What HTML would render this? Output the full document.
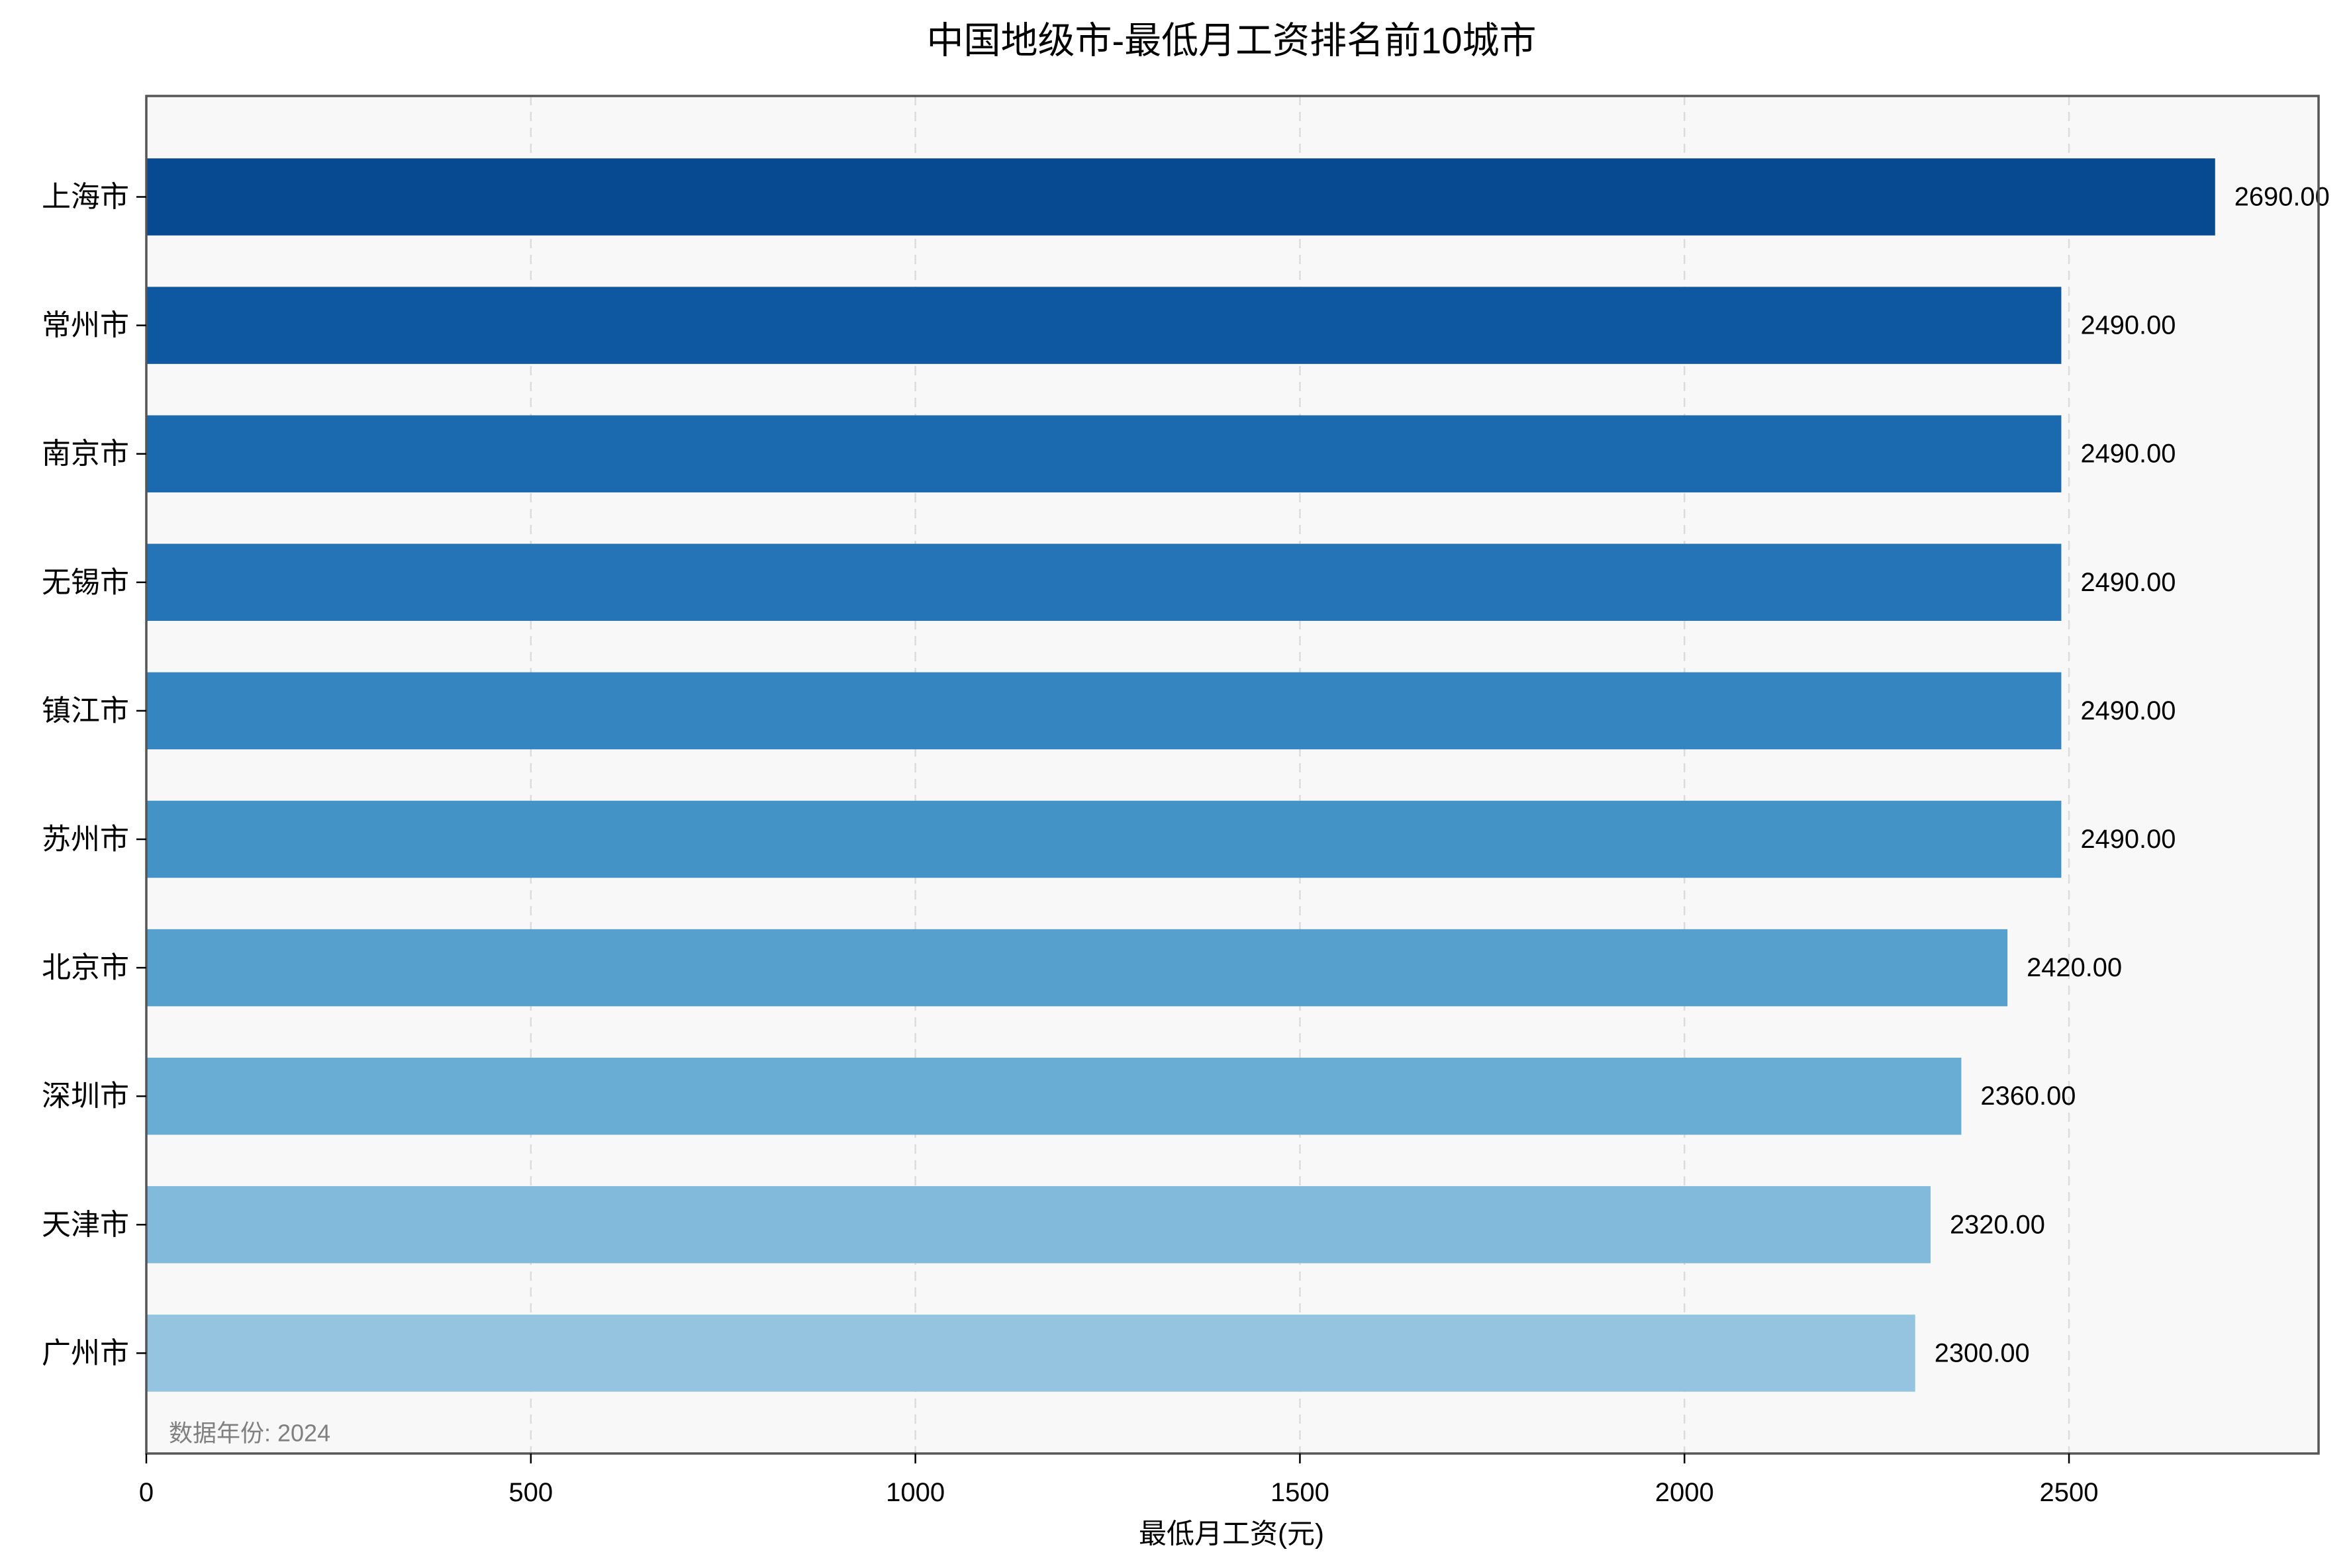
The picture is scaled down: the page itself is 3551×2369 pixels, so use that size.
<!DOCTYPE html>
<html><head><meta charset="utf-8"><style>
html,body{margin:0;padding:0;background:#fff;}
svg{display:block;}
text{font-family:"Liberation Sans","Noto Sans CJK SC",sans-serif;}
</style></head><body>
<svg id="chart" width="3551" height="2369" viewBox="0 0 3551 2369" xmlns="http://www.w3.org/2000/svg">
<rect x="0" y="0" width="3551" height="2369" fill="#ffffff"/>
<text x="1860" y="61" font-size="56" text-anchor="middle" dominant-baseline="central" fill="#000">中国地级市-最低月工资排名前10城市</text>
<rect x="221" y="145" width="3281" height="2051" fill="#f8f8f8"/>
<g id="grid"></g>
<g id="bars"></g>
<g id="labels"></g>
<text x="255" y="2165" font-size="36" fill="#808080" dominant-baseline="central">数据年份: 2024</text>
<rect x="221" y="145" width="3281" height="2051" fill="none" stroke="#555" stroke-width="3.5"/>
<g id="xticks"></g>
<g id="yticks"></g>
<text x="1860" y="2317" font-size="42" text-anchor="middle" dominant-baseline="central" fill="#000">最低月工资(元)</text>
</svg>
<script>
const cities = ["上海市","常州市","南京市","无锡市","镇江市","苏州市","北京市","深圳市","天津市","广州市"];
const wages = [2690,2490,2490,2490,2490,2490,2420,2360,2320,2300];
const barColors = ["#084a91","#0e58a2","#1b69af","#2474b7","#3585c0","#4493c7","#56a0ce","#69add5","#81badb","#94c4df"];
const xTicks = [0,500,1000,1500,2000,2500];

const NS="http://www.w3.org/2000/svg";
const X0=221, X1=3502, Y0=145, Y1=2196;
const xMax = Math.max(...wages)*1.05;
function xs(v){return X0+(v/xMax)*(X1-X0);}
const step = 194.1;
function ys(i){return 297.5+i*step;}
const barH = 0.6*step;
function mk(tag,attrs,parent){const e=document.createElementNS(NS,tag);for(const k in attrs)e.setAttribute(k,attrs[k]);parent.appendChild(e);return e;}
const grid=document.getElementById('grid'),bars=document.getElementById('bars'),labels=document.getElementById('labels'),xt=document.getElementById('xticks'),yt=document.getElementById('yticks');
xTicks.forEach(t=>{
  const x=xs(t);
  if(t>0){const g=mk('line',{x1:x,x2:x,y1:Y0,y2:Y1,stroke:'#dcdcdc','stroke-width':2.5,'stroke-dasharray':'14,10'},grid);
  
  }
  const tk=mk('line',{x1:x,x2:x,y1:Y1,y2:Y1+15,stroke:'#000','stroke-width':2.5},xt);
  
  
  const tl=mk('text',{x:x,y:2255,'font-size':40,'text-anchor':'middle','dominant-baseline':'central',fill:'#000'},xt);
  tl.textContent=t;
  
  
});
cities.forEach((c,i)=>{
  const y=ys(i);
  const r=mk('rect',{x:X0,y:y-barH/2,width:xs(wages[i])-X0,height:barH,fill:barColors[i]},bars);
  
  
  const v=mk('text',{x:xs(wages[i])+29,y:y,'font-size':40,'dominant-baseline':'central',fill:'#000',textLength:144,lengthAdjust:'spacingAndGlyphs'},labels);
  v.textContent=wages[i].toFixed(2);
  
  
  const tk=mk('line',{x1:X0-15,x2:X0,y1:y,y2:y,stroke:'#000','stroke-width':2.5},yt);
  
  
  const tl=mk('text',{x:X0-26,y:y,'font-size':44,'text-anchor':'end','dominant-baseline':'central',fill:'#000'},yt);
  tl.textContent=c;
  
  
});
</script>
</body></html>
